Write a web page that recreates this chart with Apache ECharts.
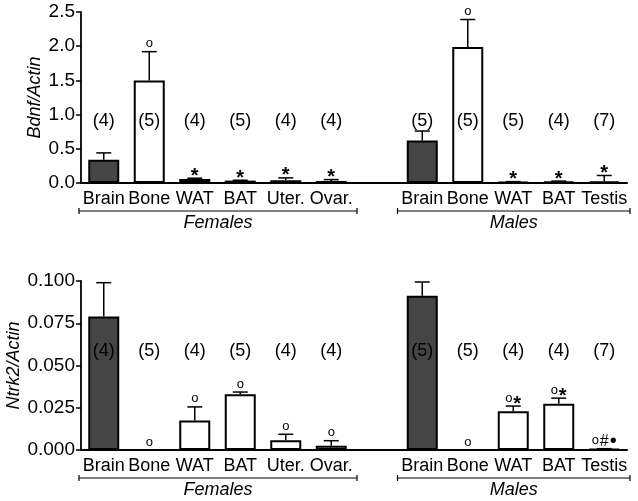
<!DOCTYPE html>
<html><head><meta charset="utf-8">
<script src="https://cdn.jsdelivr.net/npm/echarts@6/dist/echarts.min.js"></script>
<style>html,body{margin:0;padding:0;background:#fff}#c{width:638px;height:501px}</style>
</head><body><div id="c"></div>
<script>
// ---- data ----
const categories = ['Brain','Bone','WAT','BAT','Uter.','Ovar.','','Brain','Bone','WAT','BAT','Testis'];
const brainIndex = [0, 7];
const groupNames = ['Females', 'Males'];
const groupStart = [0, 7];
const groupEnd = [5, 11];

const bdnfMean = [0.34, 1.50, 0.06, 0.035, 0.04, 0.03, null, 0.62, 1.99, 0.015, 0.02, 0.025];
const bdnfSem  = [0.10, 0.42, 0.01, 0.005, 0.035, 0.02, null, 0.14, 0.40, 0.005, 0.008, 0.085];
const bdnfN    = ['(4)','(5)','(4)','(5)','(4)','(4)','','(5)','(5)','(5)','(4)','(7)'];
const bdnfMarks = ['','o','*','*','*','*','','','o','*','*','*'];
const bdnfTicks = [0, 0.5, 1.0, 1.5, 2.0, 2.5];

const ntrkMean = [0.079, 0, 0.0175, 0.033, 0.0057, 0.0025, null, 0.0912, 0, 0.023, 0.0274, 0.0006];
const ntrkSem  = [0.020, 0, 0.008, 0.0013, 0.0036, 0.003, null, 0.0082, 0, 0.003, 0.0033, 0.0002];
const ntrkN    = ['(4)','(5)','(4)','(5)','(4)','(4)','','(5)','(5)','(4)','(4)','(7)'];
const ntrkMarks = ['','o','o','o','o','o','','','o','o*','o*','o#•'];
const ntrkTicks = [0, 0.025, 0.05, 0.075, 0.1];

// ---- helpers ----
const FONT = "'Liberation Sans', Arial, Helvetica, sans-serif";
const DARK = '#454545';

function barSeries(ax, mean) {
  return {
    type: 'bar', xAxisIndex: ax, yAxisIndex: ax, barWidth: 31, z: 2,
    data: mean.map((v, i) => ({
      value: v,
      itemStyle: { color: brainIndex.includes(i) ? DARK : '#fff', borderColor: '#000', borderWidth: 2 }
    }))
  };
}

const markWidth = { 'o': 8, '*': 9, '#': 10, '•': 8 };
function markElems(str, cx, cy) {
  const chars = Array.from(str);
  const total = chars.reduce((s, c) => s + (markWidth[c] || 9), 0);
  let x = cx - total / 2;
  const out = [];
  chars.forEach(c => {
    const w = markWidth[c] || 9;
    const mx = x + w / 2;
    let style = { text: c, x: mx, y: cy, align: 'center', verticalAlign: 'middle', fill: '#000', fontFamily: FONT };
    if (c === 'o') { style.fontSize = 13; style.y = cy - 1; }
    else if (c === '*') { style.fontSize = 20; style.fontWeight = 'bold'; style.y = cy + 5; }
    else if (c === '#') { style.fontSize = 16; }
    else if (c === '•') { style.fontSize = 20; }
    out.push({ type: 'text', style });
    x += w;
  });
  return out;
}

function errSeries(ax, mean, sem, marks) {
  return {
    type: 'custom', xAxisIndex: ax, yAxisIndex: ax, z: 5, clip: false,
    encode: { x: 0, y: 1 },
    data: mean.map((m, i) => [i, m == null ? NaN : m, sem[i] == null ? NaN : sem[i]]),
    renderItem(params, api) {
      const i = api.value(0), m = api.value(1), s = api.value(2);
      if (isNaN(m)) return;
      const base = api.coord([i, m]);
      const top = api.coord([i, m + s]);
      const children = [];
      if (s > 0) {
        children.push({ type: 'line', shape: { x1: top[0], y1: base[1], x2: top[0], y2: top[1] }, style: { stroke: '#000', lineWidth: 1.5 } });
        children.push({ type: 'line', shape: { x1: top[0] - 7.5, y1: top[1], x2: top[0] + 7.5, y2: top[1] }, style: { stroke: '#000', lineWidth: 1.5 } });
      }
      const str = marks[params.dataIndex];
      if (str) markElems(str, top[0], top[1] - 7).forEach(e => children.push(e));
      return { type: 'group', children };
    }
  };
}

function nSeries(ax, nArr, yVal) {
  return {
    type: 'custom', xAxisIndex: ax, yAxisIndex: ax, z: 6, clip: false,
    encode: { x: 0, y: 1 },
    data: nArr.map((t, i) => [i, yVal]),
    renderItem(params, api) {
      const t = nArr[params.dataIndex];
      if (!t) return;
      const p = api.coord([api.value(0), api.value(1)]);
      return { type: 'text', style: { text: t, x: p[0], y: p[1], align: 'center', verticalAlign: 'middle', fontSize: 18, fontFamily: FONT, fill: '#000' } };
    }
  };
}

function groupSeries(ax) {
  return {
    type: 'custom', xAxisIndex: ax, yAxisIndex: ax, z: 6, clip: false,
    encode: { x: 0, y: 1 },
    data: groupNames.map((g, k) => [groupStart[k], 0, groupEnd[k]]),
    renderItem(params, api) {
      const bw = api.size([1, 0])[0];
      const a = api.coord([api.value(0), 0]);
      const b = api.coord([api.value(2), 0]);
      const x1 = a[0] - bw / 2 - 2, x2 = b[0] + bw / 2 + 3;
      const y = a[1] + 28;
      const ls = { stroke: '#000', lineWidth: 1.2 };
      return { type: 'group', children: [
        { type: 'line', shape: { x1, y1: y, x2, y2: y }, style: ls },
        { type: 'line', shape: { x1, y1: y - 3, x2: x1, y2: y + 3 }, style: ls },
        { type: 'line', shape: { x1: x2, y1: y - 3, x2: x2, y2: y + 3 }, style: ls },
        { type: 'text', style: { text: groupNames[params.dataIndex], x: (x1 + x2) / 2, y: y + 11.5, align: 'center', verticalAlign: 'middle', fontSize: 18, fontStyle: 'italic', fontFamily: FONT, fill: '#000' } }
      ]};
    }
  };
}

function xAxis(gi) {
  return {
    type: 'category', gridIndex: gi, data: categories,
    axisLine: { lineStyle: { color: '#000', width: 2 } },
    axisTick: { show: false },
    axisLabel: { interval: 0, color: '#000', fontSize: 18, fontFamily: FONT, margin: 7 }
  };
}
function yAxis(gi, ticks, dec, name, gap) {
  return {
    type: 'value', gridIndex: gi, min: ticks[0], max: ticks[ticks.length - 1], interval: ticks[1] - ticks[0],
    name, nameLocation: 'middle', nameGap: gap, nameMoveOverlap: false,
    nameTextStyle: { fontSize: 18, fontStyle: 'italic', fontFamily: FONT, color: '#000' },
    axisLine: { show: true, lineStyle: { color: '#000', width: 1.8 } },
    axisTick: { show: true, length: 5, lineStyle: { color: '#000', width: 1.5 } },
    splitLine: { show: false },
    axisLabel: { color: '#000', fontSize: 19, fontFamily: FONT, margin: 6, formatter: v => v.toFixed(dec) }
  };
}

const chart = echarts.init(document.getElementById('c'), null, { renderer: 'canvas' });
chart.setOption({
  animation: false,
  backgroundColor: '#fff',
  textStyle: { fontFamily: FONT },
  grid: [
    { left: 81, width: 546, top: 12, height: 171, containLabel: false, outerBoundsMode: 'none' },
    { left: 81, width: 546, top: 281, height: 169, containLabel: false, outerBoundsMode: 'none' }
  ],
  xAxis: [xAxis(0), xAxis(1)],
  yAxis: [yAxis(0, bdnfTicks, 1, 'Bdnf/Actin', 37), yAxis(1, ntrkTicks, 3, 'Ntrk2/Actin', 58)],
  series: [
    barSeries(0, bdnfMean), errSeries(0, bdnfMean, bdnfSem, bdnfMarks), nSeries(0, bdnfN, 0.906), groupSeries(0),
    barSeries(1, ntrkMean), errSeries(1, ntrkMean, ntrkSem, ntrkMarks), nSeries(1, ntrkN, 0.0585), groupSeries(1)
  ]
});
</script></body></html>
